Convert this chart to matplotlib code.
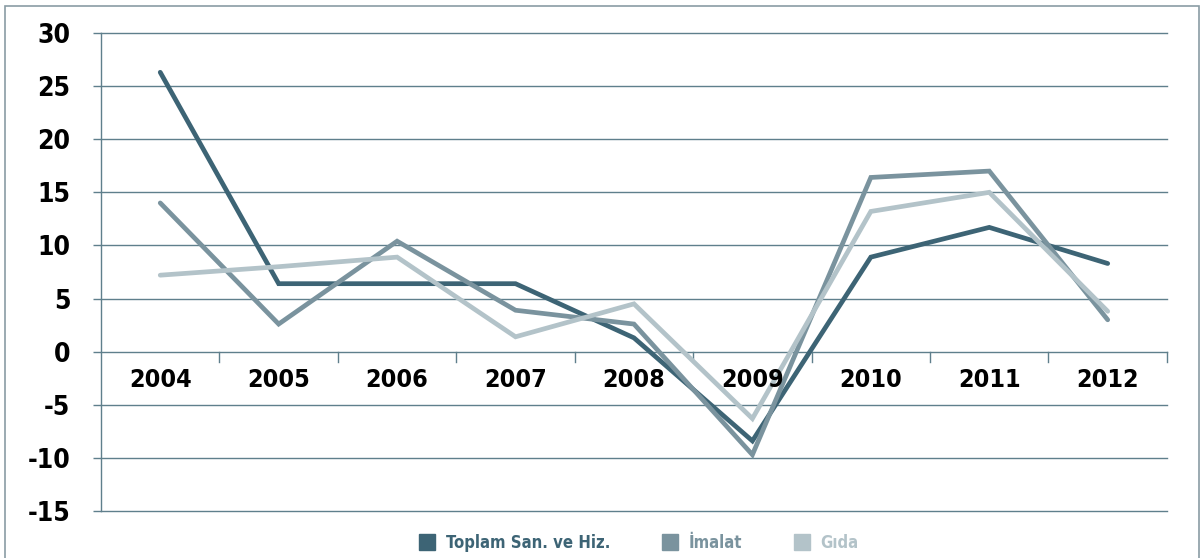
import matplotlib.pyplot as plt
from matplotlib.patches import Rectangle
from matplotlib.lines import Line2D

plt.rcParams['font.family'] = ['DejaVu Sans']
plt.rcParams['font.stretch'] = 'condensed'
plt.rcParams['font.weight'] = 'bold'

years = ['2004', '2005', '2006', '2007', '2008', '2009', '2010', '2011', '2012']
toplam = [26.3, 6.4, 6.4, 6.4, 1.3, -8.4, 8.9, 11.7, 8.3]
imalat = [14.0, 2.6, 10.4, 3.9, 2.6, -9.7, 16.4, 17.0, 3.0]
gida = [7.2, 8.0, 8.9, 1.4, 4.5, -6.3, 13.2, 15.0, 3.8]

names = ['Toplam San. ve Hiz.', 'İmalat', 'Gıda']
colors = ['#3d6475', '#7a939e', '#b3c3c9']
grid_c = '#5f7f8c'

fig = plt.figure(figsize=(12.04, 5.58), dpi=100)
ax = fig.add_axes([0.0839, 0.0842, 0.8853, 0.8567])

x = list(range(len(years)))
for vals, c in zip([toplam, imalat, gida], colors):
    ax.plot(x, vals, color=c, lw=3.4, solid_capstyle='round', solid_joinstyle='miter', zorder=3)

ax.set_xlim(-0.5, len(years) - 0.5)
ax.set_ylim(-15, 30)
ax.set_yticks(range(-15, 31, 5))
ax.set_yticklabels([str(v) for v in range(-15, 31, 5)], fontsize=19, fontweight='bold')
for v in range(-15, 31, 5):
    ax.axhline(v, color=grid_c, lw=1.0, zorder=1, clip_on=False)

for s in ['top', 'right', 'bottom']:
    ax.spines[s].set_visible(False)
ax.spines['left'].set_color(grid_c)
ax.spines['left'].set_linewidth(1.0)
ax.tick_params(axis='y', length=6, color=grid_c, width=1.0, pad=16)
ax.set_xticks([])

# category boundary ticks hanging from the zero line
for b in range(1, len(years) + 1):
    ax.plot([b - 0.5, b - 0.5], [0, -1.0], color=grid_c, lw=1.0, clip_on=False, zorder=1)
for i, yr in enumerate(years):
    ax.text(i, -2.7, yr, ha='center', va='center', fontsize=18, fontweight='bold', color='black')

handles = [Line2D([], [], marker='s', ls='none', color=c, markersize=11) for c in colors]
leg = fig.legend(handles, names, loc='center', bbox_to_anchor=(0.527, 0.027), ncol=3,
                 frameon=False, fontsize=12, handletextpad=0.1, columnspacing=2.6)
for t, c in zip(leg.get_texts(), colors):
    t.set_color(c)
    t.set_fontweight('bold')

fig.patches.append(Rectangle((0.004, -0.1), 0.992, 1.089, transform=fig.transFigure,
                             fill=False, edgecolor='#8a9ca4', lw=1.2))

fig.savefig('out.png', dpi=100)
